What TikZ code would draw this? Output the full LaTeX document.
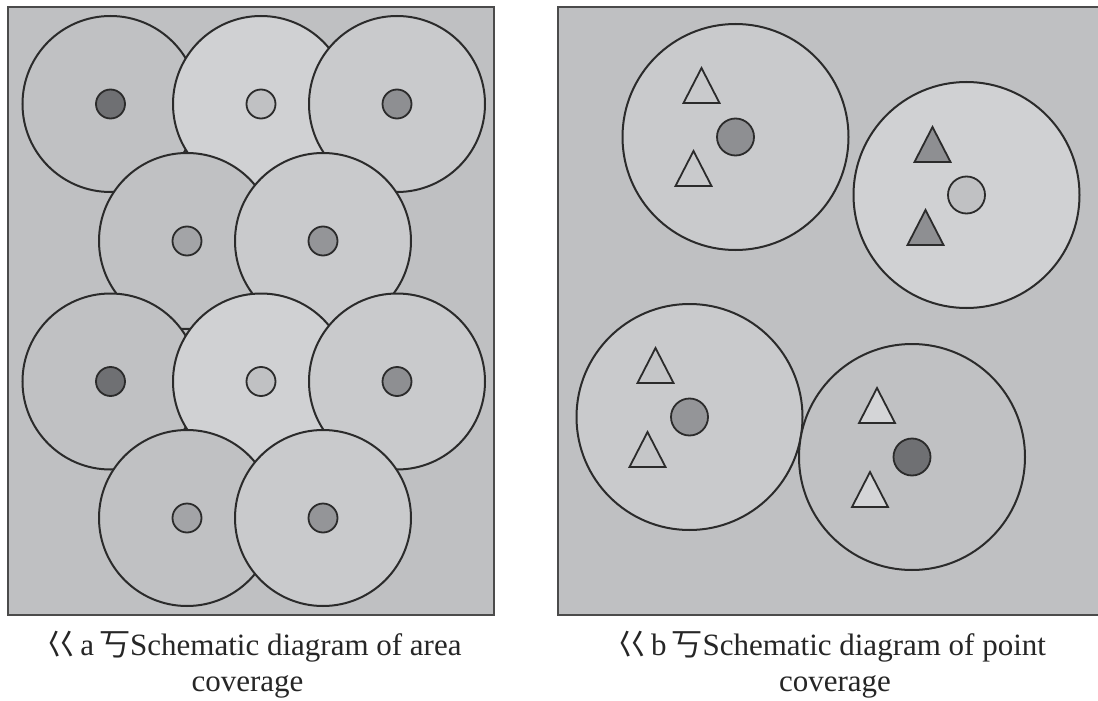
\documentclass[tikz,border=0pt]{standalone}
\usepackage{fontspec}
\setmainfont{Liberation Serif}
\newfontfamily\cjk{Noto Sans CJK SC}
\usetikzlibrary{calc}
\definecolor{bgc}{HTML}{BFC0C2}
\definecolor{edgec}{HTML}{2B2B2B}
\definecolor{fA}{HTML}{C0C1C3}
\definecolor{fB}{HTML}{D0D1D3}
\definecolor{fC}{HTML}{C9CACC}
\definecolor{dDark}{HTML}{6F7073}
\definecolor{dMid}{HTML}{8E8F92}
\definecolor{dLight}{HTML}{C0C1C3}
\definecolor{dPale}{HTML}{A3A4A7}
\definecolor{dMid2}{HTML}{949598}
\definecolor{tPale}{HTML}{D4D5D7}
\definecolor{tC}{HTML}{C5C6C8}
\tikzset{
  panel/.style={fill=bgc, draw=edgec!85, line width=2pt},
  bigdisc/.style={circle, draw=edgec, line width=2pt, inner sep=0pt, minimum size=176pt},
  bdisc/.style={circle, draw=edgec, line width=2pt, inner sep=0pt, minimum size=226pt},
  dot/.style={circle, draw=edgec, line width=1.8pt, inner sep=0pt, minimum size=29pt},
  bdot/.style={circle, draw=edgec, line width=1.8pt, inner sep=0pt, minimum size=37pt},
  trimk/.style={draw=edgec, line width=1.8pt, line join=miter},
  captext/.style={font=\fontsize{31}{33}\selectfont, anchor=base, inner sep=0pt, text=black!85}
}
\newcommand\trimark[3]{%
  \path[trimk, fill=#3] ($(#1)+(#2)$) -- ++(-18,35) -- ++(36,0) -- cycle;}
\begin{document}
\begin{tikzpicture}[x=1pt, y=-1pt]
\useasboundingbox (0,0) rectangle (1098,701);
\fill[white] (0,0) rectangle (1098,701);
% panel a
\path[panel] (8,7) rectangle (494,615);
\node[bigdisc, fill=fA] (a11) at (110.5,104) {};
\node[bigdisc, fill=fB] (a12) at (261,104) {};
\node[bigdisc, fill=fC] (a13) at (397,104) {};
\node[dot, fill=dDark] (p11) at (a11) {};
\node[dot, fill=dLight] (p12) at (a12) {};
\node[dot, fill=dMid] (p13) at (a13) {};
\node[bigdisc, fill=fA] (a21) at (187,241) {};
\node[bigdisc, fill=fC] (a22) at (323,241) {};
\node[dot, fill=dPale] (p21) at (a21) {};
\node[dot, fill=dMid2] (p22) at (a22) {};
\node[bigdisc, fill=fA] (a31) at (110.5,381.5) {};
\node[bigdisc, fill=fB] (a32) at (261,381.5) {};
\node[bigdisc, fill=fC] (a33) at (397,381.5) {};
\node[dot, fill=dDark] (p31) at (a31) {};
\node[dot, fill=dLight] (p32) at (a32) {};
\node[dot, fill=dMid] (p33) at (a33) {};
\node[bigdisc, fill=fA] (a41) at (187,518) {};
\node[bigdisc, fill=fC] (a42) at (323,518) {};
\node[dot, fill=dPale] (p41) at (a41) {};
\node[dot, fill=dMid2] (p42) at (a42) {};
% panel b
\fill[bgc] (558,7) rectangle (1098,615);
\draw[edgec!85, line width=2pt] (1098,7) -- (558,7) -- (558,615) -- (1098,615);
\node[bdisc, fill=fC] (bA) at (735.5,137) {};
\node[bdot, fill=dMid] (qA) at (bA) {};
\trimark{bA}{-34,-69}{fC}
\trimark{bA}{-42,14}{fC}
\node[bdisc, fill=fB] (bB) at (966.5,195) {};
\node[bdot, fill=dLight] (qB) at (bB) {};
\trimark{bB}{-34,-68}{dMid}
\trimark{bB}{-41,15}{dMid}
\node[bdisc, fill=fC] (bC) at (689.5,417) {};
\node[bdot, fill=dMid2] (qC) at (bC) {};
\trimark{bC}{-34,-69}{tC}
\trimark{bC}{-42,15}{tC}
\node[bdisc, fill=fA] (bD) at (912,457) {};
\node[bdot, fill=dDark] (qD) at (bD) {};
\trimark{bD}{-35,-69}{tPale}
\trimark{bD}{-42,15}{tPale}
% captions
\node[captext] (ca1) at (253.5,655) {{\cjk 巜}\hspace{4pt}a\hspace{5pt}{\cjk 丂}Schematic diagram of area};
\node[captext] (ca2) at (247.5,691) {coverage};
\node[captext] (cb1) at (831,655) {{\cjk 巜}\hspace{4pt}b\hspace{5pt}{\cjk 丂}Schematic diagram of point};
\node[captext] (cb2) at (835,691) {coverage};
\end{tikzpicture}
\end{document}
